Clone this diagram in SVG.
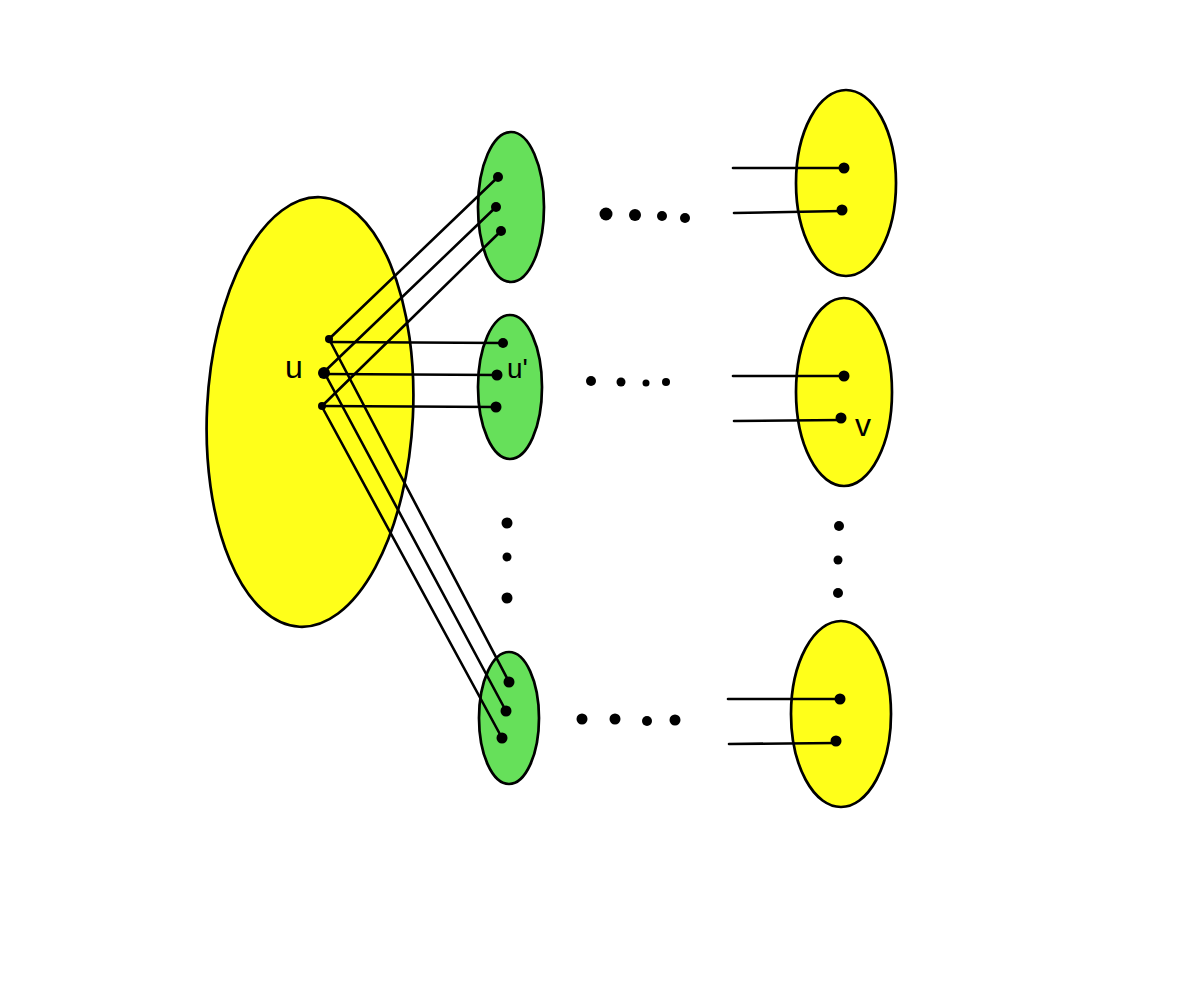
<svg xmlns="http://www.w3.org/2000/svg" width="1177" height="1000" viewBox="0 0 1177 1000">
<style>
.y{fill:#ffff1a;stroke:#000;stroke-width:2.7}
.g{fill:#66e05a;stroke:#000;stroke-width:2.7}
.e{stroke:#000;stroke-width:2.6;fill:none;stroke-linecap:round}
.d{fill:#000}
.t{font-family:"Liberation Sans",Arial,sans-serif;fill:#000}
</style>
<rect width="1177" height="1000" fill="#fff"/>
<g id="U">
<ellipse class="y" cx="310" cy="412" rx="103" ry="215" transform="rotate(2.8 310 412)"/>
</g>
<g id="G1"><ellipse class="g" cx="511" cy="207" rx="33" ry="75"/></g>
<g id="G2"><ellipse class="g" cx="510" cy="387" rx="32" ry="72"/></g>
<g id="G3"><ellipse class="g" cx="509" cy="718" rx="30" ry="66"/></g>
<g id="R1"><ellipse class="y" cx="846" cy="183" rx="50" ry="93"/></g>
<g id="R2"><ellipse class="y" cx="844" cy="392" rx="48" ry="94"/></g>
<g id="R3"><ellipse class="y" cx="841" cy="714" rx="50" ry="93"/></g>
<g id="connectors">
<line class="e" x1="329" y1="339" x2="498" y2="177"/>
<line class="e" x1="324" y1="372" x2="496" y2="207"/>
<line class="e" x1="322" y1="406" x2="501" y2="231"/>
<line class="e" x1="329" y1="342" x2="503" y2="343"/>
<line class="e" x1="324" y1="374" x2="497" y2="375"/>
<line class="e" x1="322" y1="406" x2="496" y2="407"/>
<line class="e" x1="329" y1="339" x2="509" y2="682"/>
<line class="e" x1="324" y1="372" x2="506" y2="711"/>
<line class="e" x1="321" y1="405" x2="502" y2="738"/>
<line class="e" x1="733" y1="168" x2="844" y2="168"/>
<line class="e" x1="734" y1="213" x2="842" y2="211"/>
<line class="e" x1="733" y1="376" x2="844" y2="376"/>
<line class="e" x1="734" y1="421" x2="841" y2="420"/>
<line class="e" x1="728" y1="699" x2="840" y2="699"/>
<line class="e" x1="729" y1="744" x2="836" y2="743"/>
</g>
<g id="dots">
<circle class="d" cx="329" cy="339" r="4"/>
<circle class="d" cx="324" cy="373" r="6"/>
<circle class="d" cx="322" cy="406" r="4"/>
<circle class="d" cx="498" cy="177" r="5"/>
<circle class="d" cx="496" cy="207" r="5"/>
<circle class="d" cx="501" cy="231" r="5"/>
<circle class="d" cx="503" cy="343" r="5"/>
<circle class="d" cx="497" cy="375" r="5.5"/>
<circle class="d" cx="496" cy="407" r="5.5"/>
<circle class="d" cx="509" cy="682" r="5.5"/>
<circle class="d" cx="506" cy="711" r="5.5"/>
<circle class="d" cx="502" cy="738" r="5.5"/>
<circle class="d" cx="844" cy="168" r="5.5"/>
<circle class="d" cx="842" cy="210" r="5.5"/>
<circle class="d" cx="844" cy="376" r="5.5"/>
<circle class="d" cx="841" cy="418" r="5.5"/>
<circle class="d" cx="840" cy="699" r="5.5"/>
<circle class="d" cx="836" cy="741" r="5.5"/>
<circle class="d" cx="606" cy="214" r="6.5"/>
<circle class="d" cx="635" cy="215" r="6"/>
<circle class="d" cx="662" cy="216" r="5"/>
<circle class="d" cx="685" cy="218" r="5"/>
<circle class="d" cx="591" cy="381" r="5"/>
<circle class="d" cx="621" cy="382" r="4.5"/>
<circle class="d" cx="646" cy="383" r="3.5"/>
<circle class="d" cx="666" cy="382" r="4"/>
<circle class="d" cx="582" cy="719" r="5.5"/>
<circle class="d" cx="615" cy="719" r="5.5"/>
<circle class="d" cx="647" cy="721" r="5"/>
<circle class="d" cx="675" cy="720" r="5.5"/>
<circle class="d" cx="507" cy="523" r="5.5"/>
<circle class="d" cx="507" cy="557" r="4.5"/>
<circle class="d" cx="507" cy="598" r="5.5"/>
<circle class="d" cx="839" cy="526" r="5"/>
<circle class="d" cx="838" cy="560" r="4.5"/>
<circle class="d" cx="838" cy="593" r="5"/>
</g>
<g id="labels">
<text class="t" x="285" y="378" font-size="32">u</text>
<text class="t" x="507" y="378" font-size="28">u'</text>
<text class="t" x="855" y="436" font-size="32">v</text>
</g>
</svg>
